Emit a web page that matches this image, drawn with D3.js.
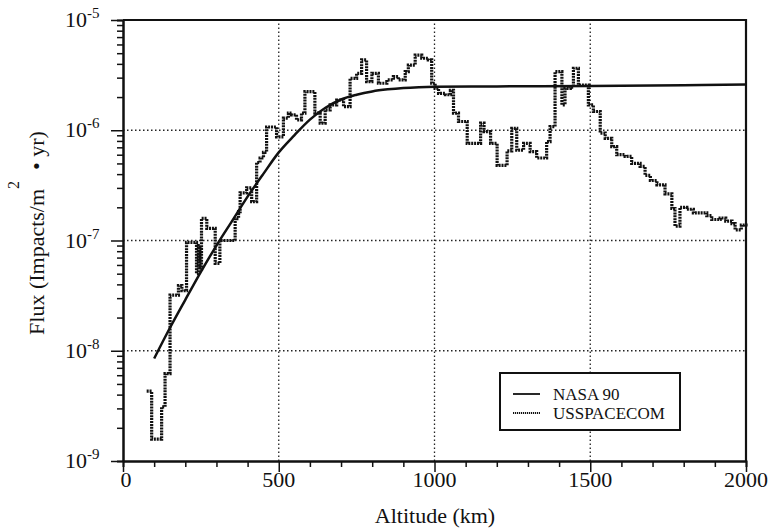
<!DOCTYPE html>
<html>
<head>
<meta charset="utf-8">
<script src="https://cdn.jsdelivr.net/npm/d3@7"></script>
<style>
  body { margin: 0; background: #fff; }
  svg { display: block; }
  text { font-family: 'Liberation Serif', 'Times New Roman', serif; fill: #111; }
  .domain { stroke: #111; stroke-width: 2px; }
  .tick line { stroke: #111; stroke-width: 1.5px; }
</style>
</head>
<body>
<div id="chart"></div>
<script>
// NASA 90 model curve (altitude km, flux)
const nasaAlt = [100, 150, 200, 250, 300, 350, 400, 450, 500, 550, 600, 650, 700, 750, 800, 850, 900, 950, 1000, 1200, 1500, 1800, 2000];
const nasaFlux = [8.5e-9, 1.6e-8, 2.9e-8, 5.2e-8, 9.0e-8, 1.5e-7, 2.5e-7, 4.0e-7, 6.3e-7, 9.0e-7, 1.25e-6, 1.6e-6, 1.9e-6, 2.1e-6, 2.25e-6, 2.35e-6, 2.42e-6, 2.46e-6, 2.48e-6, 2.5e-6, 2.52e-6, 2.56e-6, 2.6e-6];

// USSPACECOM histogram: bin edges (km) and flux per bin
const ussEdges = [76, 92, 124, 135, 151, 178, 189, 204, 236, 242, 247, 252, 269, 296, 311, 360, 371, 376, 397, 413, 429, 440, 451, 461, 493,
  515, 531, 541, 557, 573, 584, 616, 633, 649, 665, 686, 708, 729, 750, 766, 782, 799, 820, 847, 868, 884, 906, 916, 938, 959, 980,
  991, 1002, 1013, 1035, 1051, 1061, 1077, 1105, 1148, 1159, 1180, 1201, 1233, 1248, 1264, 1286, 1307, 1328, 1360, 1371, 1387, 1409,
  1419, 1436, 1446, 1462, 1494, 1510, 1532, 1548, 1569, 1585, 1612, 1633, 1660, 1676, 1693, 1714, 1740, 1762, 1772, 1788, 1810, 1831,
  1874, 1890, 1917, 1935, 1955, 1965, 1985, 2000];
const ussFlux = [4.3e-9, 1.58e-9, 3.1e-9, 6.2e-9, 3.2e-8, 3.9e-8, 3.5e-8, 9.6e-8, 5.0e-8, 9.0e-8, 5.5e-8, 1.59e-7, 1.29e-7, 6.2e-8, 1.0e-7,
  1.58e-7, 1.83e-7, 2.7e-7, 3.0e-7, 2.25e-7, 5.1e-7, 5.6e-7, 6.3e-7, 1.07e-6, 8.7e-7,
  1.29e-6, 1.43e-6, 1.38e-6, 1.24e-6, 1.43e-6, 2.24e-6, 1.43e-6, 1.16e-6, 1.53e-6, 1.7e-6, 1.88e-6, 1.64e-6, 2.96e-6, 3.28e-6, 4.34e-6,
  2.76e-6, 3.28e-6, 2.67e-6, 2.86e-6, 3.06e-6, 2.86e-6, 3.4e-6, 3.9e-6, 4.8e-6, 4.5e-6, 4.34e-6,
  2.67e-6, 2.4e-6, 2.16e-6, 2.1e-6, 2.3e-6, 1.43e-6, 1.2e-6, 7.6e-7, 1.16e-6, 9.7e-7, 7.6e-7, 4.8e-7, 6.5e-7, 1.04e-6, 6.6e-7, 7.6e-7,
  6.4e-7, 5.6e-7, 7.9e-7, 1.08e-6, 3.4e-6, 1.7e-6, 2.4e-6, 2.46e-6, 3.65e-6, 2.57e-6, 1.7e-6, 1.48e-6, 9.4e-7, 8.45e-7, 7.1e-7,
  6.0e-7, 5.8e-7, 5.0e-7, 4.7e-7, 3.9e-7, 3.5e-7, 3.2e-7, 2.65e-7, 1.95e-7, 1.35e-7, 2.0e-7, 1.92e-7, 1.78e-7, 1.68e-7, 1.55e-7,
  1.6e-7, 1.5e-7, 1.42e-7, 1.25e-7, 1.38e-7, 1.32e-7];

const xMajor = [0, 500, 1000, 1500, 2000];
const yMajor = [1e-9, 1e-8, 1e-7, 1e-6, 1e-5];
const yExp = ['-9', '-8', '-7', '-6', '-5'];
const seriesNames = ['NASA 90', 'USSPACECOM'];

const width = 769;
const height = 531;
const margin = {top: 20, right: 23, bottom: 70, left: 123};

const svg = d3.select('#chart').append('svg')
  .attr('width', width)
  .attr('height', height);

const x = d3.scaleLinear().domain([0, 2000]).range([margin.left, width - margin.right]);
const y = d3.scaleLog().domain([1e-9, 1e-5]).range([height - margin.bottom, margin.top]);

// minor log ticks
const yMinor = [];
yMajor.slice(0, -1).forEach(p => { for (let k = 2; k <= 9; k++) yMinor.push(p * k); });
const xMinor = d3.range(0, 2001, 100).filter(v => v % 500 !== 0);

// dotted grid
const grid = svg.append('g').attr('stroke', '#222').attr('stroke-width', 1.3).attr('stroke-dasharray', '1.5,2.5');
grid.selectAll('.gx').data([500, 1000, 1500]).enter().append('line')
  .attr('x1', d => x(d)).attr('x2', d => x(d))
  .attr('y1', y(1e-9)).attr('y2', y(1e-5));
grid.selectAll('.gy').data([1e-8, 1e-7, 1e-6]).enter().append('line')
  .attr('x1', x(0)).attr('x2', x(2000))
  .attr('y1', d => y(d)).attr('y2', d => y(d));

// axes
svg.append('g')
  .attr('transform', `translate(${margin.left},0)`)
  .call(d3.axisLeft(y).tickValues(yMinor).tickSize(6).tickFormat(''));
svg.append('g')
  .attr('transform', `translate(${margin.left},0)`)
  .call(d3.axisLeft(y).tickValues(yMajor).tickSize(12).tickSizeOuter(0).tickFormat(''));
svg.append('g')
  .attr('transform', `translate(0,${height - margin.bottom})`)
  .call(d3.axisBottom(x).tickValues(xMinor).tickSize(6).tickFormat(''));
svg.append('g')
  .attr('transform', `translate(0,${height - margin.bottom})`)
  .call(d3.axisBottom(x).tickValues(xMajor).tickSize(11).tickSizeOuter(0).tickFormat(''));

// frame top / right
svg.append('path')
  .attr('d', `M${x(0)},${y(1e-5)}H${x(2000)}V${y(1e-9)}`)
  .attr('fill', 'none').attr('stroke', '#111').attr('stroke-width', 2.2);

// x tick labels
svg.selectAll('.xl').data(xMajor).enter().append('text')
  .attr('x', d => x(d) + (d === 0 ? 3 : 0))
  .attr('y', 487)
  .attr('text-anchor', 'middle')
  .style('font-size', '22px')
  .text(d => d);

// y tick labels with superscripts
const yl = svg.selectAll('.yl').data(yMajor).enter().append('text')
  .attr('x', 65)
  .attr('y', d => y(d) + 7)
  .style('font-size', '22px');
yl.append('tspan').text('10');
yl.append('tspan').attr('dy', -9).style('font-size', '15px').text((d, i) => yExp[i]);

// axis titles
svg.append('text')
  .attr('x', 435).attr('y', 523)
  .attr('text-anchor', 'middle')
  .style('font-size', '22px')
  .text('Altitude (km)');

const yt = svg.append('text')
  .attr('transform', 'translate(44,233) rotate(-90)')
  .attr('text-anchor', 'middle')
  .style('font-size', '22px');
yt.append('tspan').text('Flux (Impacts/m');
yt.append('tspan').attr('dy', -25).style('font-size', '16px').text('2');
yt.append('tspan').attr('dy', 25).text('\u00a0\u00a0• yr)');

// NASA 90 curve
const nasaPts = nasaAlt.map((a, i) => [a, nasaFlux[i]]);
const curve = d3.line()
  .x(d => x(d[0])).y(d => y(d[1]))
  .curve(d3.curveMonotoneX);
svg.append('path')
  .datum(nasaPts)
  .attr('d', curve)
  .attr('fill', 'none')
  .attr('stroke', '#111')
  .attr('stroke-width', 2.5);

// USSPACECOM steps
const ussPts = ussFlux.map((f, i) => [ussEdges[i], f]);
ussPts.push([ussEdges[ussEdges.length - 1], ussFlux[ussFlux.length - 1]]);
const step = d3.line()
  .x(d => x(d[0])).y(d => y(d[1]))
  .curve(d3.curveStepAfter);
svg.append('path')
  .datum(ussPts)
  .attr('d', step)
  .attr('fill', 'none')
  .attr('stroke', '#111')
  .attr('stroke-width', 3.2)
  .attr('stroke-dasharray', '2,0.9');

// legend
const lg = svg.append('g').attr('transform', 'translate(500,373)');
lg.append('rect')
  .attr('width', 180).attr('height', 57)
  .attr('fill', '#fff').attr('stroke', '#111').attr('stroke-width', 2);
lg.selectAll('.ll').data(seriesNames).enter().append('line')
  .attr('x1', 13).attr('x2', 40)
  .attr('y1', (d, i) => 21 + i * 19).attr('y2', (d, i) => 21 + i * 19)
  .attr('stroke', '#111')
  .attr('stroke-width', (d, i) => i === 0 ? 1.8 : 2.2)
  .attr('stroke-dasharray', (d, i) => i === 0 ? null : '1.2,0.8');
lg.selectAll('.lt').data(seriesNames).enter().append('text')
  .attr('x', 53)
  .attr('y', (d, i) => 27 + i * 19)
  .style('font-size', '17px')
  .text(d => d);
</script>
</body>
</html>
